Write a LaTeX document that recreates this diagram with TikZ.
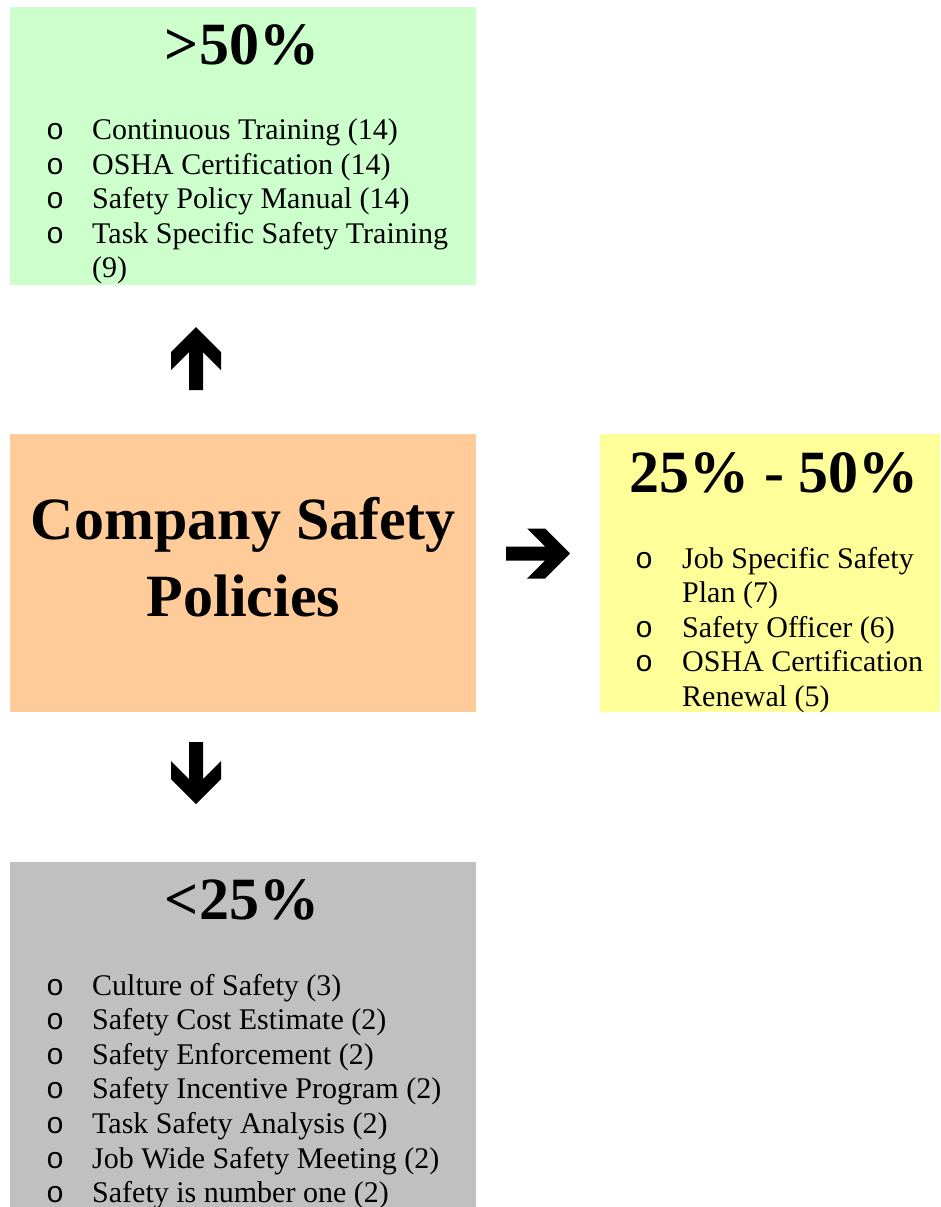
\documentclass[tikz,border=0pt]{standalone}
\usepackage{fontspec}
\setmainfont{Liberation Serif}
\newfontfamily\bulletfont{Liberation Mono}
\definecolor{greenbox}{HTML}{CCFFCC}
\definecolor{orangebox}{HTML}{FFCC99}
\definecolor{yellowbox}{HTML}{FFFF99}
\definecolor{graybox}{HTML}{C0C0C0}
\begin{document}
\begin{tikzpicture}[x=1pt,y=-1pt,
  box/.style={draw=none,inner sep=0,outer sep=0,anchor=north west},
  title/.style={inner sep=0,anchor=base,font=\fontsize{60}{72}\selectfont\bfseries},
  item/.style={inner sep=0,anchor=base west,font=\fontsize{30}{34.6}\selectfont},
  bul/.style={inner sep=0,anchor=base west,font=\bulletfont\fontsize{30}{34.6}\selectfont},
  blockarrow/.style={fill=black,draw=none}]
\useasboundingbox (0,0) rectangle (940,1207);
% boxes
\node[box,fill=greenbox,minimum width=466pt,minimum height=278pt] (gbox) at (10,7) {};
\node[box,fill=orangebox,minimum width=466pt,minimum height=278pt] (obox) at (10,434) {};
\node[box,fill=yellowbox,minimum width=340pt,minimum height=278pt] (ybox) at (600,434) {};
\node[box,fill=graybox,minimum width=466pt,minimum height=345pt] (kbox) at (10,862) {};
% green
\node[title] (gt) at (242,64) {>50\%};
\node[bul] (gb1) at (46,139.5) {o};
\node[item] (gi1) at (92,139.5) {Continuous Training (14)};
\node[bul] (gb2) at (46,174.1) {o};
\node[item] (gi2) at (92,174.1) {OSHA Certification (14)};
\node[bul] (gb3) at (46,208.7) {o};
\node[item] (gi3) at (92,208.7) {Safety Policy Manual (14)};
\node[bul] (gb4) at (46,243.3) {o};
\node[item] (gi4) at (92,243.3) {Task Specific Safety Training};
\node[item] (gi5) at (92,277.9) {(9)};
% orange
\node[title] (ot1) at (243.5,539) {Company Safety};
\node[title] (ot2) at (243.5,616) {Policies};
% yellow
\node[title] (yt) at (774,492) {25\% - 50\%};
\node[bul] (yb1) at (635,568) {o};
\node[item] (yi1) at (682,568) {Job Specific Safety};
\node[item] (yi2) at (682,602.6) {Plan (7)};
\node[bul] (yb3) at (635,637.2) {o};
\node[item] (yi3) at (682,637.2) {Safety Officer (6)};
\node[bul] (yb4) at (635,671.8) {o};
\node[item] (yi4) at (682,671.8) {OSHA Certification};
\node[item] (yi5) at (682,706.4) {Renewal (5)};
% gray
\node[title] (kt) at (242,919) {<25\%};
\node[bul] (kb1) at (46,995) {o};
\node[item] (ki1) at (92,995) {Culture of Safety (3)};
\node[bul] (kb2) at (46,1029.6) {o};
\node[item] (ki2) at (92,1029.6) {Safety Cost Estimate (2)};
\node[bul] (kb3) at (46,1064.2) {o};
\node[item] (ki3) at (92,1064.2) {Safety Enforcement (2)};
\node[bul] (kb4) at (46,1098.8) {o};
\node[item] (ki4) at (92,1098.8) {Safety Incentive Program (2)};
\node[bul] (kb5) at (46,1133.4) {o};
\node[item] (ki5) at (92,1133.4) {Task Safety Analysis (2)};
\node[bul] (kb6) at (46,1168) {o};
\node[item] (ki6) at (92,1168) {Job Wide Safety Meeting (2)};
\node[bul] (kb7) at (46,1202.6) {o};
\node[item] (ki7) at (92,1202.6) {Safety is number one (2)};
% block arrows
\coordinate (upTip) at (196,327);
\coordinate (downTip) at (196,804);
\coordinate (rightTip) at (570,553.5);
\fill[blockarrow] (upTip) -- ++(25,25) -- ++(0,18) -- ++(-18,-18) -- ++(0,38) -- ++(-14,0) -- ++(0,-38) -- ++(-18,18) -- ++(0,-18) -- cycle;
\fill[blockarrow] (downTip) -- ++(25,-25) -- ++(0,-18) -- ++(-18,18) -- ++(0,-37) -- ++(-14,0) -- ++(0,37) -- ++(-18,-18) -- ++(0,18) -- cycle;
\fill[blockarrow] (rightTip) -- ++(-25,25) -- ++(-18,0) -- ++(18,-18) -- ++(-39,0) -- ++(0,-14) -- ++(39,0) -- ++(-18,-18) -- ++(18,0) -- cycle;
\end{tikzpicture}
\end{document}
